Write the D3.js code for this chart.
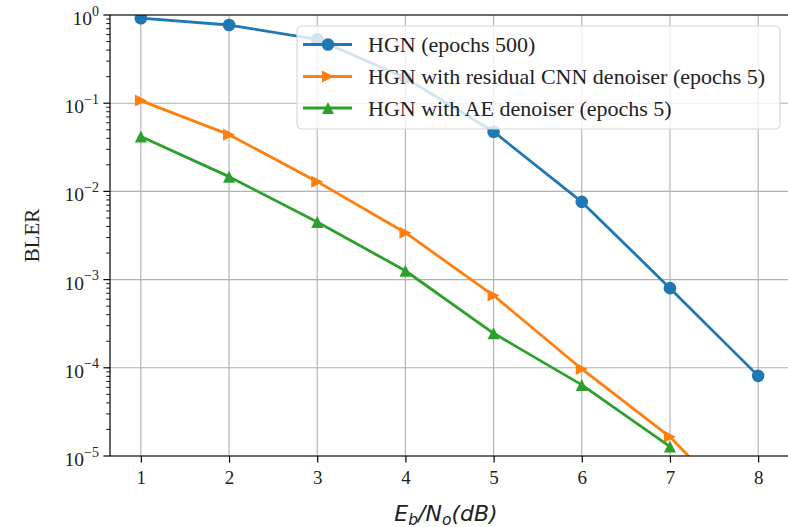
<!DOCTYPE html>
<html>
<head>
<meta charset="utf-8">
<script src="https://cdn.jsdelivr.net/npm/d3@7"></script>
<style>
  body { margin: 0; background: #fff; }
  svg { display: block; }
</style>
</head>
<body>
<script>
'use strict';

// values
const snr = [1, 2, 3, 4, 5, 6, 7, 8];
const hgn = [0.92, 0.77, 0.53, 0.193, 0.0475, 0.0076, 0.0008, 0.000081];
const hgnCnn = [0.107, 0.044, 0.0129, 0.0034, 0.00066, 0.000097, 0.0000165, 0.0000015];
const hgnAe = [0.042, 0.0147, 0.0045, 0.00126, 0.000246, 0.000064, 0.0000128];
const labels = [
  "HGN (epochs 500)",
  "HGN with residual CNN denoiser (epochs 5)",
  "HGN with AE denoiser (epochs 5)"
];
const xTicks = [1, 2, 3, 4, 5, 6, 7, 8];
const yExps = [0, -1, -2, -3, -4, -5];

const W = 788, H = 527;
const pLeft = 110, pRight = 789, pTop = 15, pBottom = 456;
const serif = "'Liberation Serif', 'Times New Roman', serif";

const svg = d3.select("body").append("svg")
  .attr("width", W).attr("height", H);

const x = d3.scaleLinear().domain([0.65, 8.35]).range([pLeft, pRight]);
const y = d3.scaleLog().domain([1e-5, 1]).range([pBottom, pTop]);

svg.append("clipPath").attr("id", "plot")
  .append("rect")
  .attr("x", pLeft).attr("y", pTop)
  .attr("width", pRight - pLeft).attr("height", pBottom - pTop);

// grid
svg.append("g").selectAll("line").data(xTicks).enter().append("line")
  .attr("x1", d => x(d)).attr("x2", d => x(d))
  .attr("y1", pTop).attr("y2", pBottom)
  .attr("stroke", "#b0b0b0").attr("stroke-width", 1.1);
svg.append("g").selectAll("line").data(yExps).enter().append("line")
  .attr("x1", pLeft).attr("x2", pRight)
  .attr("y1", d => y(Math.pow(10, d))).attr("y2", d => y(Math.pow(10, d)))
  .attr("stroke", "#b0b0b0").attr("stroke-width", 1.1);

// series
const series = [
  { vals: hgn, color: "#1f77b4", marker: "circle" },
  { vals: hgnCnn, color: "#ff7f0e", marker: "right" },
  { vals: hgnAe, color: "#2ca02c", marker: "up" }
];

function markerPath(type, s) {
  if (type === "right") return `M${s},0L${-s},${-s}L${-s},${s}Z`;
  if (type === "up") return `M0,${-s}L${-s},${s}L${s},${s}Z`;
  return d3.symbol().type(d3.symbolCircle).size(Math.PI * 6.3 * 6.3)();
}

const line = d3.line().x(d => x(d[0])).y(d => y(d[1]));
const plot = svg.append("g").attr("clip-path", "url(#plot)");

series.forEach(s => {
  const pts = s.vals.map((v, i) => [snr[i], v]);
  plot.append("path").datum(pts)
    .attr("d", line)
    .attr("fill", "none")
    .attr("stroke", s.color)
    .attr("stroke-width", 2.8)
    .attr("stroke-linejoin", "round");
  plot.selectAll(null).data(pts).enter().append("path")
    .attr("transform", d => `translate(${x(d[0])},${y(d[1])})`)
    .attr("d", markerPath(s.marker, 6))
    .attr("fill", s.color);
});

// spines
svg.append("line").attr("x1", pLeft).attr("x2", pRight).attr("y1", pTop).attr("y2", pTop)
  .attr("stroke", "#000").attr("stroke-width", 1.2);
svg.append("line").attr("x1", pLeft).attr("x2", pRight).attr("y1", pBottom).attr("y2", pBottom)
  .attr("stroke", "#000").attr("stroke-width", 1.2);
svg.append("line").attr("x1", pLeft).attr("x2", pLeft).attr("y1", pTop).attr("y2", pBottom)
  .attr("stroke", "#000").attr("stroke-width", 1.2);

// x axis
const xAxis = d3.axisBottom(x).tickValues(xTicks).tickSize(6.6).tickPadding(8)
  .tickFormat(d3.format("d"));
const gx = svg.append("g").attr("transform", `translate(0,${pBottom})`).call(xAxis);
gx.select(".domain").remove();
gx.selectAll(".tick line").attr("stroke", "#000").attr("stroke-width", 1.2);
gx.selectAll(".tick text").attr("font-family", serif).attr("font-size", 19)
  .attr("fill", "#222");

// y axis: major ticks with 10^n labels, minor ticks
const minors = [];
for (let e = -5; e < 0; e++) {
  for (let m = 2; m <= 9; m++) minors.push(m * Math.pow(10, e));
}
svg.append("g").selectAll("line").data(minors).enter().append("line")
  .attr("x1", pLeft - 3.8).attr("x2", pLeft)
  .attr("y1", d => y(d)).attr("y2", d => y(d))
  .attr("stroke", "#000").attr("stroke-width", 0.9);

const gy = svg.append("g");
const yt = gy.selectAll("g").data(yExps).enter().append("g")
  .attr("transform", d => `translate(0,${y(Math.pow(10, d))})`);
yt.append("line").attr("x1", pLeft - 6.6).attr("x2", pLeft)
  .attr("stroke", "#000").attr("stroke-width", 1.2);
const ytext = yt.append("text")
  .attr("x", pLeft - 11).attr("y", 10)
  .attr("text-anchor", "end")
  .attr("font-family", serif).attr("font-size", 19.5).attr("fill", "#222");
ytext.append("tspan").text("10");
ytext.append("tspan").attr("dy", -9.5).attr("font-size", 14)
  .text(d => d === 0 ? "0" : "\u2212" + (-d));

// axis labels
svg.append("text")
  .attr("transform", `translate(38.5,${(pTop + pBottom) / 2}) rotate(-90)`)
  .attr("text-anchor", "middle")
  .attr("font-family", serif).attr("font-size", 21).attr("fill", "#222")
  .text("BLER");

const xl = svg.append("text")
  .attr("x", 446).attr("y", 521)
  .attr("text-anchor", "middle")
  .attr("font-family", "'DejaVu Sans', sans-serif").attr("font-size", 22)
  .attr("font-style", "italic").attr("fill", "#222");
xl.append("tspan").text("E");
xl.append("tspan").attr("font-size", 15.5).attr("dy", 3.5).text("b");
xl.append("tspan").attr("dy", -3.5).text("/N");
xl.append("tspan").attr("font-size", 15.5).attr("dy", 3.5).text("o");
xl.append("tspan").attr("dy", -3.5).text("(dB)");

// legend
const lg = svg.append("g");
lg.append("rect")
  .attr("x", 297).attr("y", 26).attr("width", 483).attr("height", 103)
  .attr("rx", 5).attr("ry", 5)
  .attr("fill", "#fff").attr("fill-opacity", 0.8)
  .attr("stroke", "#d6d6d6").attr("stroke-width", 1.1);

const rowY = [44.5, 76.5, 108];
series.forEach((s, i) => {
  const row = lg.append("g").attr("transform", `translate(0,${rowY[i]})`);
  row.append("line").attr("x1", 303).attr("x2", 352)
    .attr("stroke", s.color).attr("stroke-width", 2.8);
  row.append("path").attr("transform", "translate(328,0)")
    .attr("d", markerPath(s.marker, 6)).attr("fill", s.color);
  row.append("text").attr("x", 368).attr("y", 7.5)
    .attr("font-family", serif).attr("font-size", 22).attr("fill", "#222")
    .text(labels[i]);
});
</script>
</body>
</html>
